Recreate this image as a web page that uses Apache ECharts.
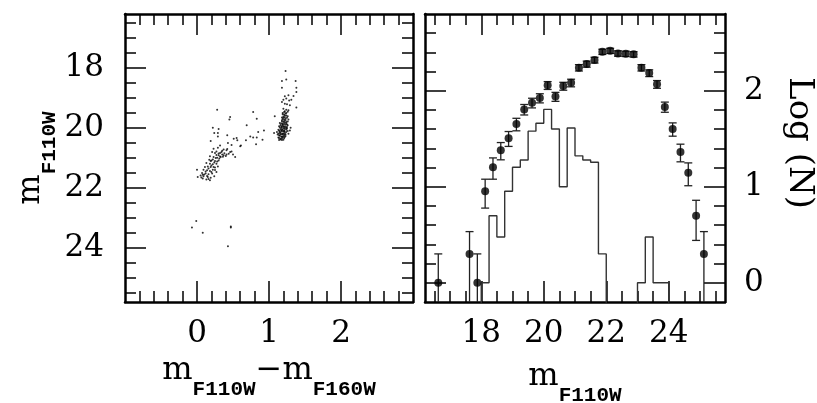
<!DOCTYPE html>
<html>
<head>
<meta charset="utf-8">
<script src="https://cdn.jsdelivr.net/npm/echarts@6/dist/echarts.min.js"></script>
<style>
  html, body { margin: 0; padding: 0; background: #fff; }
  #chart { width: 817px; height: 403px; }
</style>
</head>
<body>
<div id="chart"></div>
<script>
// left panel: colour-magnitude diagram, points are [m110 - m160, m110]
var rgbStars = [
  [1.23,18.10],[1.18,18.43],[1.24,18.38],[1.37,18.43],[1.18,18.66],[1.38,18.66],[1.38,18.80],[1.22,18.94],[1.27,18.91],[1.34,18.93],
  [1.20,19.06],[1.24,19.02],[1.28,19.08],[1.31,19.06],[1.18,19.13],[1.22,19.19],[1.25,19.21],[1.29,19.24],[1.38,19.32],[1.20,19.36],
  [1.24,19.39],[1.27,19.41],[1.21,19.47],[1.24,19.50],[1.19,19.54],[1.08,19.61],[1.22,19.58],[1.26,19.61],[1.20,19.66],[1.23,19.69],
  [1.27,19.72],[1.18,19.74],[1.21,19.77],[1.24,19.80],[1.15,19.83],[1.19,19.86],[1.23,19.88],[1.26,19.91],[1.14,19.94],[1.18,19.97],
  [1.22,19.99],[1.25,20.02],[1.30,19.99],[1.13,20.06],[1.17,20.08],[1.21,20.10],[1.24,20.13],[1.11,20.13],[1.15,20.17],[1.19,20.19],
  [1.23,20.21],[1.14,20.24],[1.18,20.28],[1.22,20.30],[1.16,20.36],[1.20,20.39],[1.07,20.17],[1.13,20.32],[1.27,20.19],[1.29,20.08],
  [1.20,19.62],[1.22,19.64],[1.19,19.70],[1.21,19.72],[1.25,19.66],[1.18,19.78],[1.20,19.80],[1.22,19.82],[1.17,19.85],[1.21,19.87],
  [1.24,19.84],[1.16,19.90],[1.19,19.92],[1.21,19.94],[1.23,19.95],[1.15,19.98],[1.17,20.00],[1.20,20.01],[1.22,20.03],[1.19,20.05],
  [1.16,20.04],[1.14,20.09],[1.18,20.11],[1.20,20.12],[1.22,20.14],[1.16,20.15],[1.13,20.18],[1.17,20.20],[1.19,20.22],[1.21,20.24],
  [1.15,20.26],[1.17,20.29],[1.19,20.31],[1.14,20.33],[1.18,20.35],[1.21,20.34],[1.16,20.38],[1.23,20.27],[1.24,20.06],[1.25,19.97],
  [1.26,19.78],[1.23,19.74],[1.24,19.58],[1.21,19.55],[1.23,19.52],[1.26,19.46],[1.22,19.44],[1.19,19.50],[1.17,19.94],[1.20,19.96],
  [1.15,20.12],[1.12,20.22],[1.18,20.40],[1.14,20.40],[1.20,20.18],[1.22,20.20],[1.18,20.07],[1.21,20.09],[1.24,20.00],[1.19,19.88],
  [1.18,19.65],[1.25,19.88],[1.26,20.10],[1.20,20.28],[1.16,20.22]
];
var bridgeStars = [
  [0.78,19.47],[0.83,19.69],[0.69,19.91],[0.93,20.08],[0.85,20.13],[0.74,20.28],
  [0.78,20.32],[0.83,20.32],[0.91,20.39],[0.68,20.41],[0.82,20.54],[0.61,20.58]
];
var lowerStars = [
  [0.28,19.39],[0.46,19.63],[0.45,19.72],[0.22,19.99],[0.30,20.03],[0.24,20.17],[0.29,20.17],[0.29,20.28],[0.42,20.24],[0.51,20.36],
  [0.55,20.33],[0.19,20.43],[0.56,20.41],[0.32,20.58],[0.43,20.50],[0.48,20.57],[0.60,20.61],[0.23,20.69],[0.29,20.66],[0.37,20.72],
  [0.41,20.74],[0.46,20.80],[0.21,20.80],[0.25,20.83],[0.32,20.83],[0.35,20.88],[0.30,20.91],[0.37,20.91],[0.41,20.88],[0.50,20.88],
  [0.53,20.97],[0.18,20.94],[0.23,20.97],[0.28,20.99],[0.33,20.97],[0.17,21.06],[0.20,21.08],[0.25,21.10],[0.30,21.08],[0.13,21.17],
  [0.18,21.19],[0.22,21.21],[0.27,21.19],[0.15,21.28],[0.19,21.30],[0.25,21.32],[0.29,21.28],[0.09,21.39],[0.14,21.41],[0.18,21.43],
  [0.22,21.39],[0.07,21.50],[0.12,21.52],[0.16,21.54],[0.21,21.52],[0.27,21.47],[0.05,21.58],[0.09,21.61],[0.15,21.63],[0.19,21.66],
  [0.24,21.61],[0.13,21.72],[0.18,21.74],[0.00,21.39],[0.01,21.63],[0.08,21.56],
  [0.30,20.85],[0.34,20.80],[0.38,20.84],[0.27,20.90],[0.32,20.95],[0.26,21.00],[0.22,21.05],[0.28,21.12],[0.24,21.15],[0.20,21.25],
  [0.16,21.35],[0.12,21.45],[0.10,21.55],[0.06,21.65],[0.14,21.60],[0.20,21.47],[0.25,21.40],[0.23,21.30],[0.31,21.02],[0.36,20.96],
  [0.40,20.93],[0.44,20.86],[0.48,20.78],[0.35,20.76],[0.42,20.70],[0.27,20.78],[0.19,21.10],[0.11,21.30],[0.08,21.68],[0.16,21.70]
];
var faintStars = [
  [-0.01,23.10],[-0.07,23.32],[0.08,23.49],[0.47,23.28],[0.47,23.32],[0.43,23.94]
];

// right panel: luminosity function, counts per 0.25 mag bin
var lfMag = [16.625, 17.625, 17.875,
  18.125, 18.375, 18.625, 18.875, 19.125, 19.375, 19.625, 19.875, 20.125, 20.375,
  20.625, 20.875, 21.125, 21.375, 21.625, 21.875, 22.125, 22.375, 22.625, 22.875,
  23.125, 23.375, 23.625, 23.875, 24.125, 24.375, 24.625, 24.875, 25.125];
var lfCount = [1, 2, 1,
  9, 16, 24, 32, 45, 64, 75, 84, 114, 87,
  112, 121, 174, 190, 209, 255, 261, 245, 243, 240,
  174, 153, 117, 68, 40, 23, 14, 5, 2];

var histBinStart = [18.0, 18.25, 18.5, 18.75, 19.0, 19.25, 19.5, 19.75, 20.0, 20.25, 20.5, 20.75,
  21.0, 21.25, 21.5, 21.75, 22.0, 22.25, 22.5, 22.75, 23.0, 23.25, 23.5, 23.75];
var histCount = [1, 5, 3, 9, 16, 19, 38, 46, 64, 40, 10, 41,
  21, 19, 18, 2, 0, 0, 0, 0, 1, 3, 1, 1];
var histBinWidth = 0.25;

// tick values
var colorMajor = [0, 1, 2];
var colorMinor = [-0.8, -0.6, -0.4, -0.2, 0.2, 0.4, 0.6, 0.8, 1.2, 1.4, 1.6, 1.8, 2.2, 2.4, 2.6, 2.8];
var magMajor = [18, 20, 22, 24];
var magMinor = [16.5, 17, 17.5, 18.5, 19, 19.5, 20.5, 21, 21.5, 22.5, 23, 23.5, 24.5, 25, 25.5];
var logNMajor = [0, 1, 2];
var logNMinor = [0.2, 0.4, 0.6, 0.8, 1.2, 1.4, 1.6, 1.8, 2.2, 2.4, 2.6];

var LOG_MIN = -0.2;
var LOG_FLOOR = -1; // empty bins, below the frame
function logN(n) { return n > 0 ? Math.log10(n) : LOG_FLOOR; }

var serif = 'DejaVu Serif';
var labelFont = { fontFamily: serif, fontSize: 31, color: '#000' };
var mRich = {
  m: { fontFamily: serif, fontSize: 32, lineHeight: 32, verticalAlign: 'top', color: '#000' },
  s: { fontFamily: 'Liberation Mono', fontWeight: 'bold', fontSize: 21, lineHeight: 21,
       padding: [24, 0, 0, 0], verticalAlign: 'top', color: '#000' }
};

// each frame side = one axis with the long ticks (and labels) + one with the short ticks
function sideAxes(grid, pos, min, max, majors, minors, extra) {
  extra = extra || {};
  var common = {
    type: 'value', gridIndex: grid, position: pos, min: min, max: max,
    inverse: !!extra.inverse,
    splitLine: { show: false }
  };
  var major = Object.assign({}, common, {
    axisLine: { show: true, onZero: false, lineStyle: { color: '#000', width: 2.5 } },
    axisTick: { show: true, inside: true, length: 21, customValues: majors, lineStyle: { color: '#000', width: 1.5 } },
    axisLabel: extra.label ? Object.assign({ show: true, customValues: majors }, labelFont, extra.label) : { show: false }
  }, extra.name || {});
  var minor = Object.assign({}, common, {
    axisLine: { show: false, onZero: false },
    axisTick: { show: true, inside: true, length: 11, customValues: minors, lineStyle: { color: '#000', width: 1.5 } },
    axisLabel: { show: false }
  });
  return [major, minor];
}

var xAxes = [], yAxes = [];
function addAxes(list, pair) { var i = list.length; list.push(pair[0], pair[1]); return i; }

var cmdX = addAxes(xAxes, sideAxes(0, 'bottom', -1, 3, colorMajor, colorMinor, {
  label: { margin: 16 },
  name: { name: '{m|m}{s|F110W}{m|\u2212m}{s|F160W}', nameLocation: 'middle', nameGap: 53,
          nameTextStyle: { rich: mRich } }
}));
addAxes(xAxes, sideAxes(0, 'top', -1, 3, colorMajor, colorMinor));
var cmdY = addAxes(yAxes, sideAxes(0, 'left', 16.2, 25.8, magMajor, magMinor, {
  inverse: true,
  label: { margin: 21 },
  name: { name: '{m|m}{s|F110W}', nameLocation: 'middle', nameGap: 78,
          nameTextStyle: { rich: mRich } }
}));
addAxes(yAxes, sideAxes(0, 'right', 16.2, 25.8, magMajor, magMinor, { inverse: true }));

var lfX = addAxes(xAxes, sideAxes(1, 'bottom', 16.2, 25.8, magMajor, magMinor, {
  label: { margin: 16 },
  name: { name: '{m|m}{s|F110W}', nameLocation: 'middle', nameGap: 59,
          nameTextStyle: { rich: mRich } }
}));
addAxes(xAxes, sideAxes(1, 'top', 16.2, 25.8, magMajor, magMinor));
addAxes(yAxes, sideAxes(1, 'left', LOG_MIN, 2.8, logNMajor, logNMinor));
var lfY = addAxes(yAxes, sideAxes(1, 'right', LOG_MIN, 2.8, logNMajor, logNMinor, {
  label: { margin: 19 },
  name: { name: 'Log (N)', nameLocation: 'middle', nameGap: 57, nameRotate: -90,
          nameTextStyle: { fontFamily: serif, fontSize: 34, color: '#000', padding: [0, 30, 0, 0] } }
}));

// histogram outline as a step line through the bin edges
var histData = [[histBinStart[0], LOG_FLOOR]];
histBinStart.forEach(function (x, i) { histData.push([x, logN(histCount[i])]); });
histData.push([histBinStart[histBinStart.length - 1] + histBinWidth, LOG_FLOOR]);

var lfPoints = lfMag.map(function (m, i) { return [m, logN(lfCount[i])]; });
// poisson error bars, log(N - sqrt N) .. log(N + sqrt N)
var lfErrors = lfMag.map(function (m, i) {
  var n = lfCount[i], s = Math.sqrt(n);
  return [m, logN(n - s), logN(n + s)];
});

var chart = echarts.init(document.getElementById('chart'), null, { renderer: 'canvas' });
chart.setOption({
  animation: false,
  backgroundColor: '#fff',
  grid: [
    { left: 125, top: 14, width: 288, height: 288, containLabel: false, outerBoundsMode: 'none' },
    { left: 425, top: 14, width: 300, height: 288, containLabel: false, outerBoundsMode: 'none' }
  ],
  xAxis: xAxes,
  yAxis: yAxes,
  series: [
    {
      type: 'scatter', xAxisIndex: cmdX, yAxisIndex: cmdY,
      data: rgbStars.concat(bridgeStars, lowerStars, faintStars),
      symbol: 'circle', symbolSize: 2, itemStyle: { color: '#000' }, silent: true
    },
    {
      type: 'line', xAxisIndex: lfX, yAxisIndex: lfY, step: 'end', data: histData,
      symbol: 'none', clip: true, lineStyle: { color: '#333', width: 1.4 }, silent: true
    },
    {
      type: 'custom', xAxisIndex: lfX, yAxisIndex: lfY, data: lfErrors, clip: true, silent: true,
      encode: { x: 0, y: [1, 2] },
      renderItem: function (params, api) {
        var x = api.value(0), lo = api.value(1), hi = api.value(2);
        var top = api.coord([x, hi]);
        var bot = api.coord([x, Math.max(lo, LOG_MIN)]);
        var st = { stroke: '#222', lineWidth: 1.3 };
        var kids = [
          { type: 'line', shape: { x1: top[0], y1: top[1], x2: bot[0], y2: bot[1] }, style: st },
          { type: 'line', shape: { x1: top[0] - 4, y1: top[1], x2: top[0] + 4, y2: top[1] }, style: st }
        ];
        if (lo > LOG_MIN) {
          kids.push({ type: 'line', shape: { x1: bot[0] - 4, y1: bot[1], x2: bot[0] + 4, y2: bot[1] }, style: st });
        }
        return { type: 'group', children: kids };
      }
    },
    {
      type: 'scatter', xAxisIndex: lfX, yAxisIndex: lfY, data: lfPoints,
      symbol: 'circle', symbolSize: 8, itemStyle: { color: '#000' }, silent: true, z: 5
    }
  ]
});
</script>
</body>
</html>
